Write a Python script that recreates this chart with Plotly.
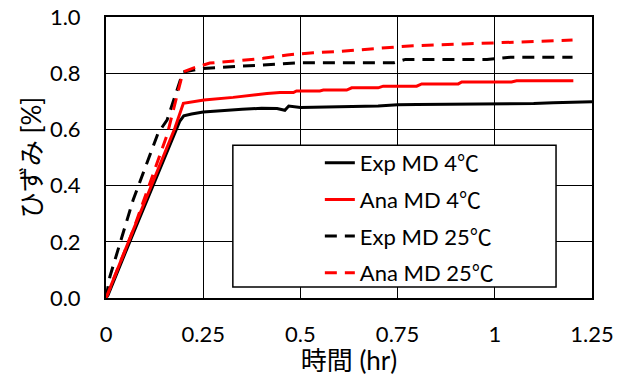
import plotly.graph_objects as go

# ---- data ----
t_exp4 = [0, 0.005, 0.07, 0.19, 0.2, 0.22, 0.25, 0.3, 0.35, 0.4, 0.44, 0.46, 0.47, 0.5, 0.55, 0.6, 0.7, 0.75, 0.8, 0.9, 1.0, 1.05, 1.1, 1.15, 1.2, 1.25]
v_exp4 = [0, 0.01, 0.23, 0.63, 0.648, 0.655, 0.662, 0.668, 0.672, 0.675, 0.674, 0.668, 0.683, 0.678, 0.68, 0.681, 0.683, 0.688, 0.689, 0.69, 0.69, 0.69, 0.692, 0.695, 0.697, 0.698]

t_ana4 = [0, 0.07, 0.177, 0.199, 0.252, 0.327, 0.414, 0.4475, 0.482, 0.49, 0.55, 0.559, 0.619, 0.632, 0.70, 0.713, 0.799, 0.812, 0.906, 0.915, 1.043, 1.056, 1.202]
v_ana4 = [0, 0.242, 0.604, 0.693, 0.705, 0.714, 0.728, 0.731, 0.731, 0.737, 0.737, 0.740, 0.740, 0.748, 0.748, 0.754, 0.754, 0.762, 0.762, 0.769, 0.769, 0.773, 0.773]

t_exp25 = [0, 0.01, 0.07, 0.134, 0.157, 0.198, 0.25, 0.327, 0.397, 0.45, 0.5, 0.6, 0.74, 0.77, 0.98, 1.04, 1.2]
v_exp25 = [0, 0.076, 0.35, 0.587, 0.633, 0.804, 0.817, 0.823, 0.829, 0.835, 0.837, 0.837, 0.837, 0.849, 0.849, 0.857, 0.857]

t_ana25 = [0, 0.07, 0.157, 0.198, 0.224, 0.267, 0.345, 0.404, 0.466, 0.533, 0.594, 0.66, 0.72, 0.79, 0.92, 1.05, 1.175, 1.2]
v_ana25 = [0, 0.242, 0.58, 0.804, 0.818, 0.836, 0.845, 0.853, 0.865, 0.873, 0.877, 0.885, 0.891, 0.898, 0.904, 0.91, 0.918, 0.918]

names = ["Exp MD 4℃", "Ana MD 4℃", "Exp MD 25℃", "Ana MD 25℃"]
x_ticks = [0, 0.25, 0.5, 0.75, 1, 1.25]
x_ticktext = ["0", "0.25", "0.5", "0.75", "1", "1.25"]
y_ticks = [0, 0.2, 0.4, 0.6, 0.8, 1.0]
y_ticktext = ["0.0", "0.2", "0.4", "0.6", "0.8", "1.0"]

FONT = "Lato, 'Noto Sans CJK JP', sans-serif"
DASH = "12px,8px"

fig = go.Figure()
fig.add_trace(go.Scatter(x=t_exp4, y=v_exp4, mode="lines", name=names[0], legendgroup="a",
                         line=dict(color="black", width=3)))
fig.add_trace(go.Scatter(x=t_ana4, y=v_ana4, mode="lines", name=names[1], legendgroup="b",
                         line=dict(color="#ff0000", width=3)))
fig.add_trace(go.Scatter(x=t_exp25, y=v_exp25, mode="lines", name=names[2], legendgroup="c",
                         line=dict(color="black", width=3, dash=DASH)))
fig.add_trace(go.Scatter(x=t_ana25, y=v_ana25, mode="lines", name=names[3], legendgroup="d",
                         line=dict(color="#ff0000", width=3, dash=DASH)))

fig.add_shape(type="rect", xref="paper", yref="paper", x0=0.261, x1=0.926, y0=0.039, y1=0.544,
              line=dict(color="black", width=1.5), fillcolor="white", layer="above")

fig.update_layout(
    width=630, height=376,
    margin=dict(l=106, r=38, t=17, b=78),
    paper_bgcolor="white", plot_bgcolor="white",
    font=dict(family=FONT, size=22, color="black"),
    showlegend=True,
    legend=dict(x=0.44, y=0.555, xanchor="left", yanchor="top", bgcolor="rgba(0,0,0,0)",
                borderwidth=0, tracegroupgap=5, font=dict(size=22)),
    xaxis=dict(range=[0, 1.25], tickvals=x_ticks, ticktext=x_ticktext, automargin=False,
               showgrid=True, gridcolor="black", gridwidth=1.3,
               showline=True, linecolor="black", linewidth=2, mirror=True,
               ticks="", ticklabelstandoff=16, zeroline=False,
               title=dict(text="時間 (hr)", standoff=14)),
    yaxis=dict(range=[0, 1.0], tickvals=y_ticks, ticktext=y_ticktext, automargin=False,
               showgrid=True, gridcolor="black", gridwidth=1.3,
               showline=True, linecolor="black", linewidth=2, mirror=True,
               ticks="", ticklabelstandoff=19, zeroline=False,
               title=dict(text="ひずみ [%]", standoff=1)),
)

fig.write_html("out.html", config={"displayModeBar": False},
               post_script="document.body.style.margin='0';document.body.style.overflow='hidden';")
